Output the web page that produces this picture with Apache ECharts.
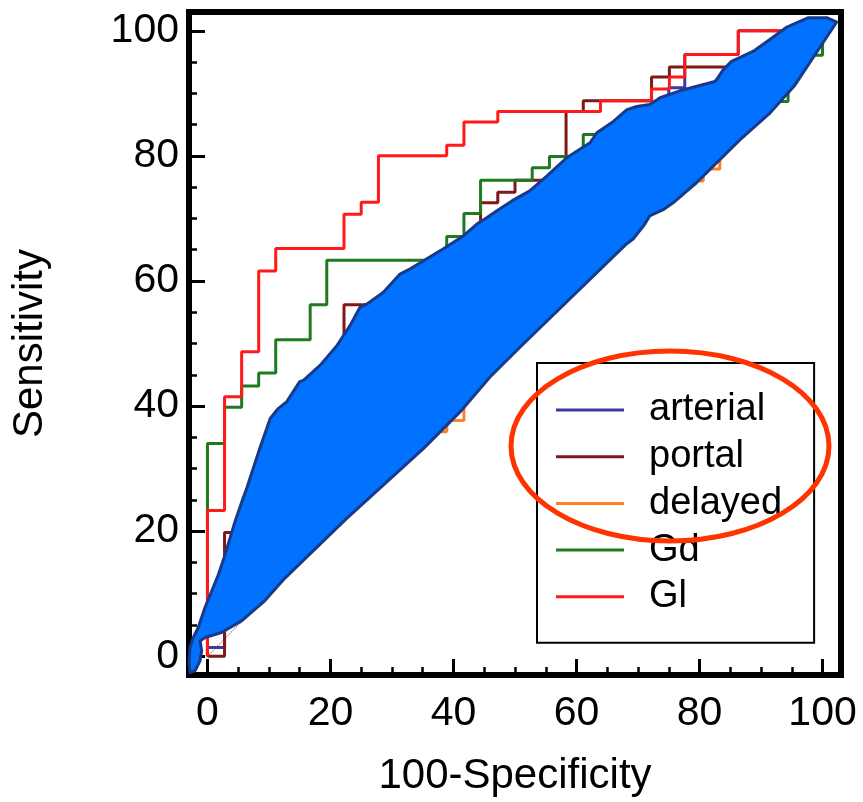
<!DOCTYPE html>
<html>
<head>
<meta charset="utf-8">
<script src="https://cdn.jsdelivr.net/npm/echarts@6/dist/echarts.min.js"></script>
<style>html,body{margin:0;padding:0;background:#fff;}#chart{width:863px;height:802px;}</style>
</head>
<body>
<div id="chart"></div>
<script>
// ---- Data ----
const seriesNames = ['arterial', 'portal', 'delayed', 'Gd', 'Gl'];
const xMajorTicks = [0, 20, 40, 60, 80, 100];
const yMajorTicks = [0, 20, 40, 60, 80, 100];
const minorTicks = [5, 10, 15, 25, 30, 35, 45, 50, 55, 65, 70, 75, 85, 90, 95];

const arterialPts = [[0,0],[0,1.4],[2.78,1.4],[2.78,12],[8.33,12],[8.33,25],[13.9,25],[13.9,38],[19.4,38],[19.4,45],[25,45],[25,52],[30.6,52],[30.6,57],[36.1,57],[36.1,61],[41.7,61],[41.7,65],[47.2,65],[47.2,69],[52.8,69],[52.8,72],[58.3,72],[58.3,76],[63.9,76],[63.9,81],[69.4,81],[69.4,85],[75,85],[75,90.9],[77.6,90.9],[77.6,92.6],[77.6,96.2],[86.3,96.2],[86.3,100],[100,100]];
const portalPts = [[0,0],[2.78,0],[2.78,19.8],[8.33,19.8],[8.33,30],[13.9,30],[13.9,40],[19.4,40],[19.4,46],[22.2,46],[22.2,56.2],[33.3,56.2],[33.3,60],[38.9,60],[38.9,64],[44.4,64],[44.4,72.5],[47.2,72.5],[47.2,74.2],[50,74.2],[50,76.1],[58.3,76.1],[58.3,87.1],[61.1,87.1],[61.1,88.8],[72.2,88.8],[72.2,92.6],[75.1,92.6],[75.1,94.2],[88.9,94.2],[88.9,96],[94.4,96],[94.4,99],[97.2,99],[97.2,100],[100,100]];
const delayedPts = [[0,0],[0,8],[5.56,8],[5.56,14],[11.1,14],[11.1,20],[16.7,20],[16.7,25],[22.2,25],[22.2,30],[27.8,30],[27.8,33],[33.3,33],[33.3,35.9],[38.9,35.9],[38.9,37.7],[41.7,37.7],[41.7,44.8],[44.4,44.8],[44.4,48.4],[47.2,48.4],[47.2,51.2],[50,51.2],[50,54],[52.8,54],[52.8,56.5],[55.6,56.5],[55.6,59],[58.3,59],[58.3,61.7],[61.1,61.7],[61.1,64.2],[63.9,64.2],[63.9,67],[66.7,67],[66.7,70],[69.4,70],[69.4,73],[72.2,73],[72.2,74.5],[75,74.5],[75,76],[80.6,76],[80.6,77.9],[83.3,77.9],[83.3,84.7],[86.1,84.7],[86.1,86.5],[88.9,86.5],[88.9,89.5],[91.7,89.5],[91.7,92.5],[94.4,92.5],[94.4,96.3],[97.2,96.3],[97.2,100],[100,100]];
const gdPts = [[0,0],[0,34],[2.78,34],[2.78,39.8],[5.56,39.8],[5.56,43.2],[8.33,43.2],[8.33,45.3],[11.1,45.3],[11.1,50.6],[16.7,50.6],[16.7,56.2],[19.4,56.2],[19.4,63.3],[38.9,63.3],[38.9,67.1],[41.7,67.1],[41.7,70.8],[44.4,70.8],[44.4,76.1],[52.8,76.1],[52.8,78.1],[55.6,78.1],[55.6,79.9],[61.1,79.9],[61.1,83.4],[66.7,83.4],[66.7,85.5],[88.9,85.5],[88.9,88.7],[94.4,88.7],[94.4,96.1],[100,96.1],[100,100]];
const glPts = [[0,0],[0,23.3],[2.78,23.3],[2.78,41.5],[5.56,41.5],[5.56,48.7],[8.33,48.7],[8.33,61.6],[11.1,61.6],[11.1,65.2],[22.2,65.2],[22.2,70.65],[25,70.65],[25,72.6],[27.8,72.6],[27.8,80],[38.9,80],[38.9,81.7],[41.7,81.7],[41.7,85.4],[47.2,85.4],[47.2,87.1],[63.9,87.1],[63.9,88.8],[72.2,88.8],[72.2,90.7],[75.1,90.7],[75.1,92.6],[77.6,92.6],[77.6,96.2],[86.3,96.2],[86.3,100],[100,100]];
const diagonalPts = [[0,0],[100,100]];

// blue band: upper edge (left to right) then lower edge (right to left)
const blobUpper = [[-2.85,-2.6],[-2.98,-1.0],[-2.85,1.4],[-2.3,3.0],[-1.5,4.6],[-0.4,7.8],[1.8,13.1],[2.85,16.2],[4.5,21.6],[5.8,25.3],[6.4,26.9],[8.5,33.2],[10.2,38.0],[11.5,39.6],[12.9,40.7],[15.0,43.9],[15.6,44.1],[18.3,46.5],[21.0,49.6],[23.2,52.9],[24.8,55.8],[25.9,56.3],[28.6,58.2],[31.3,61.1],[32.9,61.9],[35.6,63.5],[38.3,65.1],[41.6,67.2],[43.8,69.1],[45.4,70.1],[47.3,71.4],[49.5,72.8],[52.4,74.4],[55.2,76.8],[58.4,79.7],[62.2,82.1],[63.3,83.7],[66.0,85.5],[68.2,87.4],[69.8,87.9],[71.9,88.2],[73.6,89.3],[76.8,90.4],[82.5,91.9],[83.0,92.5],[83.8,93.7],[85.2,95.1],[88.7,96.7],[92.0,99.0],[94.2,100.6],[97.7,102.1],[100.7,102.1],[102.3,101.4]];
const blobLower = [[95.5,91.3],[91.3,86.7],[86.6,82.6],[83.3,79.4],[79.5,75.7],[75.7,72.5],[74.1,71.4],[71.9,70.4],[70.9,68.8],[69.2,66.7],[68.0,65.8],[50.8,49.4],[45.9,44.6],[41.1,39.1],[35.1,33.2],[22.6,22.0],[12.6,12.5],[9.35,8.9],[5.6,5.7],[2.3,3.8],[-0.4,3.0],[-1.2,2.45],[-0.94,0.86],[-1.2,-0.7],[-2.0,-2.3]];

// ---- Styles ----
const FONT = "'Liberation Sans', Arial, sans-serif";
const colors = {arterial:'#3a3aa0', portal:'#801818', delayed:'#ff7f27', Gd:'#1e7a1e', Gl:'#ff1a1a'};
const seriesData = {arterial:arterialPts, portal:portalPts, delayed:delayedPts, Gd:gdPts, Gl:glPts};

const chart = echarts.init(document.getElementById('chart'), null, {renderer:'canvas'});

const lineSeries = seriesNames.map(n => ({
  type:'line', name:n, data:seriesData[n], symbol:'none', z:3,
  lineStyle:{width:3, color:colors[n]}, itemStyle:{color:colors[n]},
  animation:false
}));

function axisCommon() {
  return {type:'value', min:-3, max:103, axisLine:{show:false, onZero:false}, splitLine:{show:false}};
}

const option = {
  animation:false,
  backgroundColor:'#ffffff',
  grid:{left:189, top:12, width:652, height:665.5, show:true, borderColor:'#000', borderWidth:6, backgroundColor:'transparent'},
  xAxis:[
    Object.assign(axisCommon(), {
      position:'bottom',
      axisTick:{show:true, inside:true, length:16, customValues:xMajorTicks, lineStyle:{color:'#000', width:3}},
      axisLabel:{customValues:xMajorTicks, fontSize:41, color:'#000', fontFamily:FONT, margin:18},
      name:'100-Specificity', nameLocation:'middle', nameGap:80,
      nameTextStyle:{fontSize:42, color:'#000', fontFamily:FONT}
    }),
    Object.assign(axisCommon(), {
      position:'bottom',
      axisTick:{show:true, inside:true, length:8, customValues:minorTicks, lineStyle:{color:'#000', width:2.5}},
      axisLabel:{show:false}
    })
  ],
  yAxis:[
    Object.assign(axisCommon(), {
      position:'left',
      axisTick:{show:true, inside:true, length:16, customValues:yMajorTicks, lineStyle:{color:'#000', width:3}},
      axisLabel:{customValues:yMajorTicks, fontSize:41, color:'#000', fontFamily:FONT, margin:10},
      name:'Sensitivity', nameLocation:'middle', nameGap:138,
      nameTextStyle:{fontSize:42, color:'#000', fontFamily:FONT}
    }),
    Object.assign(axisCommon(), {
      position:'left',
      axisTick:{show:true, inside:true, length:8, customValues:minorTicks, lineStyle:{color:'#000', width:2.5}},
      axisLabel:{show:false}
    })
  ],
  legend:{
    data:seriesNames, orient:'vertical', left:537, top:363,
    padding:[28,32,27,19], itemWidth:68, itemHeight:3, itemGap:8.7, icon:'rect',
    borderColor:'#000', borderWidth:2, backgroundColor:'#fff', selectedMode:false,
    textStyle:{fontSize:38, lineHeight:38, color:'#000', fontFamily:FONT, padding:[0,0,0,20]}
  },
  graphic:[{
    type:'ellipse', z:100,
    shape:{cx:670, cy:446, rx:159, ry:95},
    style:{fill:'none', stroke:'#ff3300', lineWidth:5}
  }],
  series:[
    {type:'line', data:diagonalPts, symbol:'none', z:1, silent:true,
     lineStyle:{type:'dotted', width:1.2, color:'#c07070'}}
  ].concat(lineSeries).concat([{
    type:'custom', data:[[0,0]], z:10, silent:true, clip:false,
    renderItem:function(params, api){
      const pts = blobUpper.concat(blobLower).map(p => api.coord(p));
      return {type:'polygon', shape:{points:pts},
        style:{fill:'#0072ff', stroke:'#173a8a', lineWidth:3, lineJoin:'round'}};
    }
  }])
};
chart.setOption(option);
</script>
</body>
</html>
